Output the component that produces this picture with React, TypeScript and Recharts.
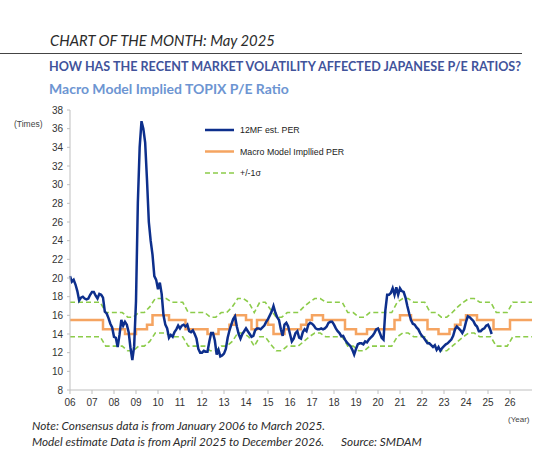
import React from 'react'
import { LineChart, Line, XAxis, YAxis } from 'recharts'

const START_YEAR = 2006
const END_YEAR = 2027

const YEAR_TICKS = [
  2006, 2007, 2008, 2009, 2010, 2011, 2012, 2013, 2014, 2015, 2016,
  2017, 2018, 2019, 2020, 2021, 2022, 2023, 2024, 2025, 2026,
]
const YEAR_LABELS = [
  '06', '07', '08', '09', '10', '11', '12', '13', '14', '15', '16',
  '17', '18', '19', '20', '21', '22', '23', '24', '25', '26',
]
const PER_TICKS = [8, 10, 12, 14, 16, 18, 20, 22, 24, 26, 28, 30, 32, 34, 36, 38]

// 12MF est. PER, monthly, Jan 2006 - Mar 2025
const PER_12MF = [
  20.2, 19.6, 19.8, 19.3, 18.6, 17.6, 17.9, 18.0, 17.8, 17.7, 17.8, 18.2,
  18.5, 18.5, 18.1, 17.8, 18.3, 18.2, 17.9, 16.4, 16.2, 15.7, 15.1, 14.7,
  13.7, 13.6, 12.6, 13.9, 15.5, 14.9, 15.3, 15.0, 14.2, 12.5, 11.2, 12.7,
  17.5, 28.0, 34.0, 36.8, 36.0, 34.5, 30.5, 26.0, 24.0, 22.5, 20.2, 19.8,
  18.8, 19.5, 18.3, 16.0, 15.0, 14.6, 13.6, 13.9, 13.7, 14.2, 14.5, 14.9,
  14.6, 14.9, 15.0, 14.8, 15.0, 14.3, 14.2, 14.4, 14.0, 13.5, 12.4, 12.0,
  12.0, 12.2, 12.1, 12.1, 13.2, 14.1, 14.1, 13.3, 11.8, 12.3, 11.6, 11.7,
  11.9, 12.4, 13.6, 14.4, 15.0, 15.6, 15.9, 14.8, 14.0, 13.5, 14.0, 14.3,
  14.6, 14.3, 14.0, 13.7, 13.8, 14.4, 14.6, 14.6, 14.5, 14.7, 14.9, 15.3,
  15.6, 16.0, 16.4, 17.0, 16.3, 15.8, 15.5, 14.5, 13.8, 15.0, 15.2, 14.8,
  14.0, 13.2, 13.5, 14.1, 14.3, 13.6, 13.5, 14.2, 14.5, 14.3, 15.0, 15.2,
  15.1, 14.9, 14.6, 14.5, 14.5, 14.6, 14.5, 14.6, 14.8, 15.2, 15.3, 15.3,
  15.0, 14.6, 14.3, 14.1, 13.75, 13.8, 13.4, 13.1, 12.9, 12.7, 12.3, 11.8,
  12.4, 12.9, 13.0, 13.0, 12.9, 13.2, 13.1, 13.4, 13.6, 13.8, 14.1, 14.5,
  14.6, 14.1, 13.6, 13.4, 16.5, 18.2, 18.2, 18.4, 18.9, 18.2, 19.0, 18.2,
  18.9, 18.6, 18.5, 17.9, 17.0, 16.2, 15.5, 15.1, 15.0, 14.7, 14.5, 14.1,
  13.8, 13.6, 13.3, 13.0, 13.0, 12.8, 12.6, 12.8, 12.3, 12.6, 12.2, 12.5,
  12.7, 12.9, 13.0, 13.2, 13.4, 13.8, 14.5, 14.8, 14.6, 14.4, 14.1, 14.5,
  15.3, 15.9, 15.8, 15.6, 15.4, 15.0, 14.8, 14.3, 14.3, 14.5, 14.6, 14.9,
  15.0, 14.6, 14.0,
]

// Macro model implied PER, quarterly, 2006Q1 - 2026Q4
const MODEL_PER = [
  15.5, 15.5, 15.5, 15.5, 15.5, 15.5, 14.5, 14.5, 14.5, 14.5, 14.0, 14.0,
  14.5, 14.5, 15.0, 16.0, 16.0, 16.0, 15.5, 15.5, 15.5, 14.5, 14.5, 14.5,
  14.5, 14.0, 14.0, 14.5, 14.5, 15.0, 16.0, 16.0, 15.5, 14.5, 15.5, 15.5,
  15.0, 14.0, 14.0, 14.5, 14.5, 14.5, 15.0, 15.5, 16.0, 16.0, 15.5, 15.5,
  15.5, 15.5, 14.5, 14.5, 14.0, 14.0, 14.5, 14.5, 14.5, 14.5, 14.5, 15.5,
  16.0, 16.0, 15.5, 15.5, 15.5, 14.5, 14.5, 14.0, 14.0, 14.5, 15.0, 15.5,
  16.0, 16.0, 15.5, 15.5, 15.5, 14.5, 14.5, 14.5, 15.5, 15.5, 15.5, 15.5,
]

// +1 sigma band, quarterly
const SIGMA_UPPER = [
  17.4, 17.4, 17.4, 17.4, 17.4, 17.4, 16.3, 16.3, 16.3, 16.3, 15.8, 15.8,
  16.3, 16.3, 16.9, 17.8, 17.8, 17.8, 17.4, 17.4, 17.4, 16.3, 16.3, 16.3,
  16.3, 15.8, 15.8, 16.3, 16.3, 16.9, 17.8, 17.8, 17.4, 16.3, 17.4, 17.4,
  16.6, 15.8, 15.8, 16.3, 16.3, 16.3, 16.9, 17.4, 17.8, 17.8, 17.4, 17.4,
  17.4, 17.4, 16.3, 16.3, 15.8, 15.8, 16.3, 16.3, 16.3, 16.3, 16.3, 17.4,
  17.8, 17.8, 17.4, 17.4, 17.4, 16.3, 16.3, 15.8, 15.8, 16.3, 16.9, 17.4,
  17.8, 17.8, 17.4, 17.4, 17.4, 16.3, 16.3, 16.3, 17.4, 17.4, 17.4, 17.4,
]

// -1 sigma band, quarterly
const SIGMA_LOWER = [
  13.7, 13.7, 13.7, 13.7, 13.7, 13.7, 12.7, 12.7, 12.7, 12.7, 12.2, 12.2,
  12.7, 12.7, 13.2, 14.1, 14.1, 14.1, 13.7, 13.7, 13.7, 12.7, 12.7, 12.7,
  12.7, 12.2, 12.2, 12.7, 12.7, 13.2, 14.1, 14.1, 13.7, 12.7, 13.7, 13.7,
  12.9, 12.2, 12.2, 12.7, 12.7, 12.7, 13.2, 13.7, 14.1, 14.1, 13.7, 13.7,
  13.7, 13.7, 12.7, 12.7, 12.2, 12.2, 12.7, 12.7, 12.7, 12.7, 12.7, 13.7,
  14.1, 14.1, 13.7, 13.7, 13.7, 12.7, 12.7, 12.2, 12.2, 12.7, 13.2, 13.7,
  14.1, 14.1, 13.7, 13.7, 13.7, 12.7, 12.7, 12.7, 13.7, 13.7, 13.7, 13.7,
]

const BLUE = '#0d2f8c'
const ORANGE = '#f5a461'
const GREEN = '#8ccc4a'
const AXIS_GREY = '#bfbfbf'
const CHART_FONT = '"Liberation Sans", Arial, sans-serif'
const TITLE_FONT = 'Lato, "Open Sans", sans-serif'

type Row = { x: number; per?: number; model?: number; upper?: number; lower?: number }
type SeriesKey = 'per' | 'model' | 'upper' | 'lower'

function buildRows(): Row[] {
  const rows = new Map<string, Row>()
  const put = (x: number, key: SeriesKey, v: number) => {
    const k = x.toFixed(4)
    const row = rows.get(k) ?? { x }
    row[key] = v
    rows.set(k, row)
  }
  PER_12MF.forEach((v, i) => put(START_YEAR + i / 12, 'per', v))

  MODEL_PER.forEach((v, i) => put(START_YEAR + i / 4, 'model', v))
  put(END_YEAR, 'model', MODEL_PER[MODEL_PER.length - 1])

  // band points sit mid-quarter so the ramps line up with the model steps
  put(START_YEAR, 'upper', SIGMA_UPPER[0])
  put(START_YEAR, 'lower', SIGMA_LOWER[0])
  SIGMA_UPPER.forEach((v, i) => put(START_YEAR + i / 4 + 1 / 8, 'upper', v))
  SIGMA_LOWER.forEach((v, i) => put(START_YEAR + i / 4 + 1 / 8, 'lower', v))
  put(END_YEAR, 'upper', SIGMA_UPPER[SIGMA_UPPER.length - 1])
  put(END_YEAR, 'lower', SIGMA_LOWER[SIGMA_LOWER.length - 1])

  return Array.from(rows.values()).sort((a, b) => a.x - b.x)
}

const LEGEND_ITEMS = [
  { label: '12MF est. PER', color: BLUE, width: 2.5, dash: undefined as string | undefined },
  { label: 'Macro Model Impllied PER', color: ORANGE, width: 2.5, dash: undefined },
  { label: '+/-1σ', color: GREEN, width: 1.6, dash: '5 3' },
]

function ChartLegend() {
  return (
    <svg width={170} height={64} style={{ position: 'absolute', left: 204, top: 120 }}>
      {LEGEND_ITEMS.map((item, i) => {
        const y = 10 + i * 21.5
        return (
          <g key={item.label}>
            <line x1={1} x2={30} y1={y} y2={y} stroke={item.color} strokeWidth={item.width} strokeDasharray={item.dash} />
            <text x={36} y={y} dominantBaseline="central" fontSize={8.8} fill="#222" fontFamily={CHART_FONT}>
              {item.label}
            </text>
          </g>
        )
      })}
    </svg>
  )
}

export default function App() {
  const data = buildRows()

  return (
    <div style={{ position: 'absolute', left: 0, top: 0, width: 546, height: 450, background: '#fff', overflow: 'hidden' }}>
      <div style={{ position: 'absolute', left: 50, top: 32, fontFamily: TITLE_FONT, fontStyle: 'italic', fontSize: 14.8, lineHeight: '17px', color: '#2b2b2b' }}>
        CHART OF THE MONTH: May 2025
      </div>
      <div style={{ position: 'absolute', left: 0, top: 53, width: 522, height: 1, background: '#444' }} />
      <div style={{ position: 'absolute', left: 49, top: 59, fontFamily: TITLE_FONT, fontWeight: 700, fontSize: 12.6, lineHeight: '15px', color: '#41539b', whiteSpace: 'nowrap' }}>
        HOW HAS THE RECENT MARKET VOLATILITY AFFECTED JAPANESE P/E RATIOS?
      </div>
      <div style={{ position: 'absolute', left: 49, top: 80, fontFamily: TITLE_FONT, fontWeight: 700, fontSize: 14, lineHeight: '17px', color: '#6d95d2' }}>
        Macro Model Implied TOPIX P/E Ratio
      </div>
      <div style={{ position: 'absolute', left: 14, top: 119, fontFamily: CHART_FONT, fontSize: 8.5, color: '#444' }}>
        (Times)
      </div>

      <div style={{ position: 'absolute', left: 0, top: 0 }}>
        <LineChart width={546} height={450} data={data} margin={{ top: 110, right: 14, bottom: 40, left: 10 }}>
          <XAxis
            dataKey="x"
            type="number"
            domain={[START_YEAR, END_YEAR]}
            ticks={YEAR_TICKS}
            interval={0}
            tickFormatter={(v: number) => YEAR_LABELS[YEAR_TICKS.indexOf(v)]}
            height={20}
            tickSize={4}
            tickMargin={5}
            axisLine={{ stroke: AXIS_GREY }}
            tickLine={{ stroke: AXIS_GREY }}
            tick={{ fontSize: 10, fill: '#333', fontFamily: CHART_FONT }}
          />
          <YAxis
            type="number"
            domain={[8, 38]}
            ticks={PER_TICKS}
            interval={0}
            width={60}
            tickSize={3}
            tickMargin={4}
            axisLine={{ stroke: AXIS_GREY }}
            tickLine={{ stroke: AXIS_GREY }}
            tick={{ fontSize: 10, fill: '#333', fontFamily: CHART_FONT }}
          />
          <Line dataKey="upper" type="linear" stroke={GREEN} strokeWidth={1.6} strokeDasharray="5 3" dot={false} connectNulls isAnimationActive={false} />
          <Line dataKey="lower" type="linear" stroke={GREEN} strokeWidth={1.6} strokeDasharray="5 3" dot={false} connectNulls isAnimationActive={false} />
          <Line dataKey="model" type="stepAfter" stroke={ORANGE} strokeWidth={2.5} dot={false} connectNulls isAnimationActive={false} />
          <Line dataKey="per" type="linear" stroke={BLUE} strokeWidth={2.5} dot={false} connectNulls isAnimationActive={false} />
        </LineChart>
      </div>

      <ChartLegend />

      <div style={{ position: 'absolute', left: 508, top: 415, fontFamily: CHART_FONT, fontSize: 8, color: '#444' }}>
        (Year)
      </div>
      <div style={{ position: 'absolute', left: 32, top: 418, fontFamily: TITLE_FONT, fontStyle: 'italic', fontSize: 11.8, lineHeight: '16px', color: '#2b2b2b' }}>
        <div>Note: Consensus data is from January 2006 to March 2025.</div>
        <div>
          Model estimate Data is from April 2025 to December 2026.
          <span style={{ marginLeft: 17 }}>Source: SMDAM</span>
        </div>
      </div>
    </div>
  )
}
